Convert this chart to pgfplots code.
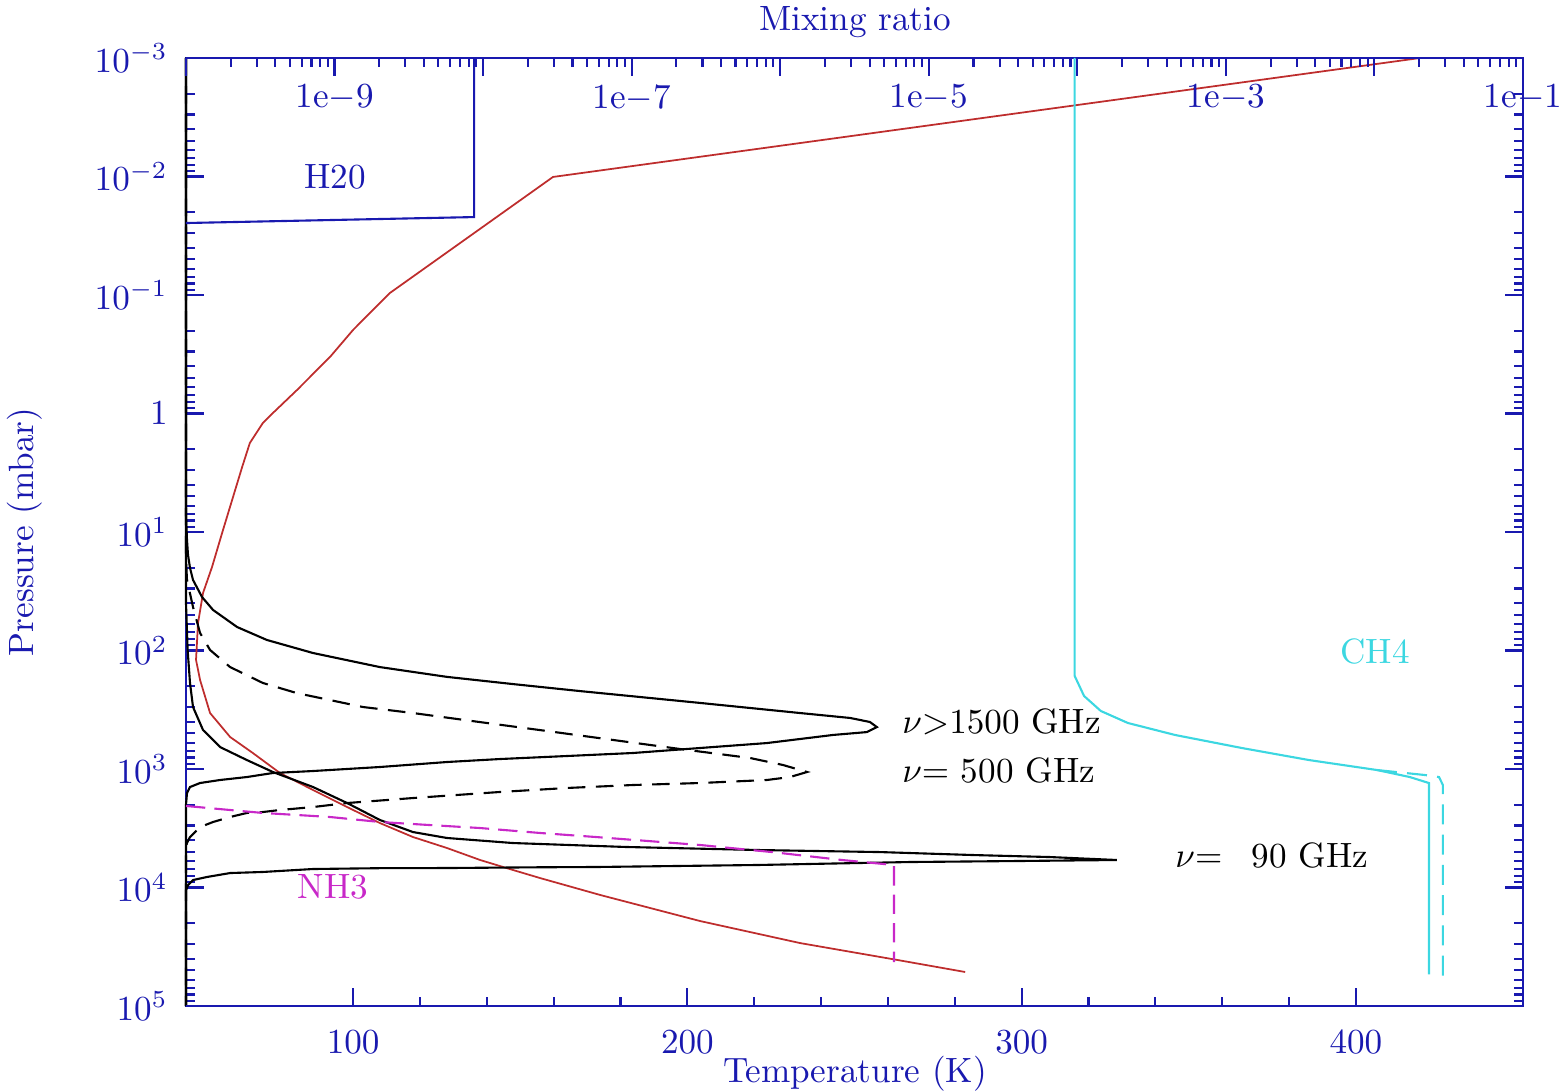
\documentclass[border=0pt]{standalone}
\usepackage{pgfplots}
\pgfplotsset{compat=1.18}

\definecolor{axblue}{RGB}{25,25,175}
\definecolor{tred}{RGB}{190,45,45}
\definecolor{ch4cyan}{RGB}{60,215,225}
\definecolor{nh3mag}{RGB}{200,40,200}

\begin{document}
\begin{tikzpicture}
\useasboundingbox (-18.6mm,-8.5mm) rectangle (138.2mm,100.6mm);

% temperature / pressure frame
\begin{axis}[
  scale only axis, width=133.7mm, height=94.8mm,
  at={(0,0)}, anchor=south west,
  ymode=log, ymin=1e-3, ymax=1e5, y dir=reverse,
  axis line style={axblue, line width=0.6pt},
  every tick/.style={axblue, line width=0.6pt},
  tick align=inside,
  major tick length=1.8mm, minor tick length=0.9mm,
  tick label style={axblue},
  clip=false,
  xmin=50, xmax=450,
  xtick={100,200,300,400}, minor x tick num=4,
  xtick pos=left,
  xticklabel style={yshift=-1.2mm},
  ytick={1e-3,1e-2,1e-1,1,10,100,1000,10000,100000},
  yticklabels={$10^{-3}$,$10^{-2}$,$10^{-1}$,$1$,$10^{1}$,$10^{2}$,$10^{3}$,$10^{4}$,$10^{5}$},
  minor ytick={2e-3,3e-3,4e-3,5e-3,6e-3,7e-3,8e-3,9e-3,
               2e-2,3e-2,4e-2,5e-2,6e-2,7e-2,8e-2,9e-2,
               0.2,0.3,0.4,0.5,0.6,0.7,0.8,0.9,
               2,3,4,5,6,7,8,9,
               20,30,40,50,60,70,80,90,
               200,300,400,500,600,700,800,900,
               2000,3000,4000,5000,6000,7000,8000,9000,
               20000,30000,40000,50000,60000,70000,80000,90000},
  ytick pos=both, yticklabel pos=left,
  yticklabel style={xshift=-0.6mm},
]

% temperature profile
\addplot[tred, line width=0.5pt] coordinates {
  (419.2,1.0e-3) (159.8,1.009e-2) (111.0,0.0962) (100.0,0.197)
  (93.1,0.333) (83.2,0.634) (76.0,0.991) (73.0,1.202) (69.1,1.774)
  (66.8,2.83) (63.8,5.37) (60.8,10.2) (57.8,19.7) (55.1,32.7)
  (53.6,58.6) (53.0,120) (54.2,177) (57.2,337) (63.2,537) (70.0,733)
  (78.1,1081) (88.0,1504) (98.2,2094) (108.0,2858) (117.9,3750)
  (128.1,4645) (138.0,5861) (147.8,7113) (155.9,8318) (173.9,11560)
  (203.8,19190) (233.7,29430) (263.0,40960) (283.1,51642)
};

% weighting function, nu > 1500 GHz
\addplot[black, line width=0.6pt] coordinates {
  (50,1e-3) (50,7.2) (50.3,11.7) (50.6,15.6) (51.2,20.1) (52.1,25.4)
  (54.8,35.4) (58.1,45.5) (65.3,63.4) (74.2,81.5) (88.0,105)
  (108.0,138) (128.1,167) (147.8,192) (167.9,220)
  (203.8,277) (233.7,337) (248.7,371) (254.6,401) (256.7,443)
  (253.7,488) (243.6,516) (223.8,604) (203.8,665) (183.7,733)
  (164.0,777) (143.9,824) (128.1,873) (108.0,962) (88.0,1040)
  (76.0,1081) (68.2,1169) (60.2,1238) (54.2,1313) (51.2,1419)
  (50.3,1596) (50,2000) (50,1e5)
};

% weighting function, nu = 500 GHz
\addplot[black, line width=0.6pt, dash pattern=on 5pt off 3pt] coordinates {
  (50,1e-3) (50,17.2) (50.3,25.4) (52.1,43.0) (54.2,71.1) (57.2,99)
  (63.2,138) (73.0,188) (83.2,229) (93.1,262) (103.0,300) (117.9,337)
  (138.0,402) (158.0,478) (177.8,569) (197.8,678) (218.7,807)
  (228.6,925) (235.8,1060) (230.7,1169) (223.8,1238)
  (203.8,1313) (183.7,1365) (164.0,1446) (143.9,1563) (117.9,1758)
  (98.2,1937) (88.0,2094) (78.1,2218) (73.0,2307) (68.2,2350)
  (63.2,2541) (58.1,2800) (54.2,3090) (51.2,3750) (50.3,4214)
  (50,4550) (50,1e5)
};

% weighting function, nu = 90 GHz
\addplot[black, line width=0.6pt] coordinates {
  (50,1e-3) (50,40) (50.5,100) (51.2,188) (52.1,300) (55.1,469)
  (60.2,653) (68.2,840) (76.0,1060) (88.0,1419) (98.2,1937)
  (108.0,2692) (117.9,3404) (128.1,3822) (147.8,4214) (181.6,4550)
  (221.7,4830) (257.6,5023) (285.5,5321) (308.5,5534) (328.5,5861)
  (299.5,5975) (266.6,6095) (221.1,6457) (172.7,6714) (155.9,6750)
  (128.1,6850) (108.0,6870) (88.0,6982) (73.0,7396) (63.2,7551)
  (56.3,8150) (52.1,8650) (50.6,9528) (50.3,10090) (50,10500) (50,1e5)
};

\node[anchor=west] at (axis cs:260.6,401) {$\nu{>}1500$ GHz};
\node[anchor=west] at (axis cs:260.6,1020) {$\nu{=}$ 500 GHz};
\node[anchor=west] at (axis cs:342.3,5420) {$\nu{=}$ \phantom{0}90 GHz};
\node[nh3mag] at (axis cs:94.0,9910) {NH3};
\node[axblue] at (axis cs:94.6,0.0101) {H20};
\node[ch4cyan] at (axis cs:405.7,101) {CH4};
\end{axis}

% mixing ratio scale
\begin{axis}[
  scale only axis, width=133.7mm, height=94.8mm,
  at={(0,0)}, anchor=south west,
  ymode=log, ymin=1e-3, ymax=1e5, y dir=reverse,
  axis line style={axblue, line width=0.6pt},
  every tick/.style={axblue, line width=0.6pt},
  tick align=inside,
  major tick length=1.8mm, minor tick length=0.9mm,
  tick label style={axblue},
  clip=false,
  xmode=log, xmin=1e-10, xmax=1e-1,
  hide y axis,
  xtick={1e-10,1e-9,1e-8,1e-7,1e-6,1e-5,1e-4,1e-3,1e-2,1e-1},
  xticklabels={,1e$-$9,,1e$-$7,,1e$-$5,,1e$-$3,,1e$-$1},
  minor xtick={2e-10,3e-10,4e-10,5e-10,6e-10,7e-10,8e-10,9e-10,
               2e-9,3e-9,4e-9,5e-9,6e-9,7e-9,8e-9,9e-9,
               2e-8,3e-8,4e-8,5e-8,6e-8,7e-8,8e-8,9e-8,
               2e-7,3e-7,4e-7,5e-7,6e-7,7e-7,8e-7,9e-7,
               2e-6,3e-6,4e-6,5e-6,6e-6,7e-6,8e-6,9e-6,
               2e-5,3e-5,4e-5,5e-5,6e-5,7e-5,8e-5,9e-5,
               2e-4,3e-4,4e-4,5e-4,6e-4,7e-4,8e-4,9e-4,
               2e-3,3e-3,4e-3,5e-3,6e-3,7e-3,8e-3,9e-3,
               2e-2,3e-2,4e-2,5e-2,6e-2,7e-2,8e-2,9e-2},
  xtick pos=right, xticklabel pos=right,
  xticklabel style={anchor=north, yshift=-1.4mm},
]
% H2O
\addplot[axblue, line width=0.6pt] coordinates {
  (1e-10,0.0247) (8.7e-9,0.0220) (8.7e-9,1e-3)
};
% NH3
\addplot[nh3mag, line width=0.6pt, dash pattern=on 5.5pt off 2.6pt] coordinates {
  (1e-10,2051) (1.98e-10,2218) (3.30e-10,2350) (5.58e-10,2443)
  (9.31e-10,2541) (2.02e-9,2800) (4.39e-9,2972) (9.53e-9,3148)
  (2.42e-8,3467) (5.75e-8,3750) (2.93e-7,4385) (8.81e-7,5023)
  (2.61e-6,5861) (5.83e-6,6457) (5.83e-6,42560)
};
% CH4
\addplot[ch4cyan, line width=0.6pt] coordinates {
  (9.6e-5,1e-3) (9.6e-5,164) (1.11e-4,242) (1.44e-4,324) (2.19e-4,409)
  (4.54e-4,516) (1.28e-3,665) (3.62e-3,840) (1.04e-2,1020)
  (1.73e-2,1169) (2.33e-2,1314) (2.33e-2,54000)
};
\addplot[ch4cyan, line width=0.6pt, dash pattern=on 5.7pt off 2.9pt] coordinates {
  (1.04e-2,1020) (2.2e-2,1125) (2.72e-2,1169) (2.89e-2,1365) (2.89e-2,56000)
};
\end{axis}

\node[axblue, anchor=base] at (66.9mm,-7.6mm) {Temperature (K)};
\node[axblue, anchor=base] at (66.9mm,97.5mm) {Mixing ratio};
\node[axblue, anchor=base, rotate=90] at (-15.2mm,47.4mm) {Pressure (mbar)};
\end{tikzpicture}
\end{document}
